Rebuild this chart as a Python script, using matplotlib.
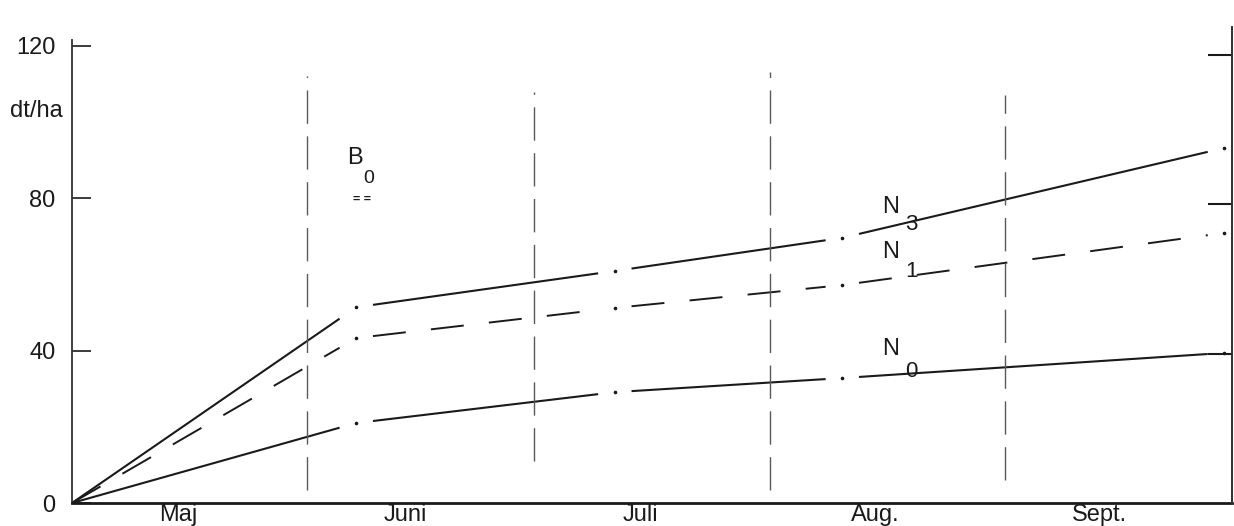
import matplotlib.pyplot as plt

# Ertrag in dt/ha, x = Tage ab 1. Mai
days = [0, 37.5, 71.6, 101.6, 152]
n3 = [0, 51.4, 60.9, 69.6, 93.2]
n1 = [0, 43.3, 51.2, 57.2, 70.9]
n0 = [0, 21.0, 29.1, 32.8, 39.4]

month_starts = [31, 61, 92, 123]
month_names = ["Maj", "Juni", "Juli", "Aug.", "Sept."]
month_label_pos = [14, 44, 75, 106, 135.5]
yticks = [0, 40, 80, 120]
right_ticks = [39, 78.5, 117.5]

plt.rcParams["font.family"] = ["Liberation Sans Narrow", "Liberation Sans", "DejaVu Sans"]
ink = "#1a1a1a"

fig = plt.figure(figsize=(12.34, 5.26), dpi=100)
ax = fig.add_axes([0.0583, 0.0437, 0.9401, 0.9054])
ax.set_xlim(0, 153)
ax.set_ylim(0, 125)


def draw_curve(xs, ys, gap, **kw):
    # plotter style: each segment stops short of the measured point
    for i in range(1, len(xs)):
        x0, y0, x1, y1 = xs[i - 1], ys[i - 1], xs[i], ys[i]
        k = (y1 - y0) / (x1 - x0)
        a = x0 + (gap if i > 1 else 0)
        b = x1 - gap
        ax.plot([a, b], [y0 + k * (a - x0), y0 + k * (b - x0)], color=ink,
                solid_capstyle="butt", **kw)
    ax.plot(xs[1:], ys[1:], ls="none", marker="o", ms=1.6, color=ink)


draw_curve(days, n3, 2.2, lw=1.5)
draw_curve(days, n1, 2.2, lw=1.4, dashes=(17, 13))
draw_curve(days, n0, 2.2, lw=1.5)

# Monatsgrenzen
vtop = [112, 108, 113, 107]
vbot = [3.5, 11, 3.5, 6]
for x, lo, hi in zip(month_starts, vbot, vtop):
    ax.vlines(x, lo, hi, color="#5a5a5a", lw=1.0, linestyles=(0, (24, 9)))

# Kurvenbeschriftung
fs = 17
ax.text(37.3, 90.6, "B", fontsize=fs, ha="center", va="center", color=ink)
ax.text(39.2, 85.2, "0", fontsize=fs - 3, ha="center", va="center", color=ink)
ax.text(38.3, 79.6, "= =", fontsize=9, fontweight="bold", ha="center", va="center", color=ink)
for lab, sub, yn, ys in [("N", "3", 77.6, 73.0), ("N", "1", 65.8, 60.8), ("N", "0", 40.4, 34.6)]:
    ax.text(107.9, yn, lab, fontsize=fs, ha="center", va="center", color=ink)
    ax.text(110.7, ys, sub, fontsize=fs - 1, ha="center", va="center", color=ink)

ax.text(-1.2, 103, "dt/ha", fontsize=fs, ha="right", va="center", color=ink)

# Achsen
ax.spines["top"].set_visible(False)
ax.spines["left"].set_bounds(0, 121.5)
for s in ["left", "right"]:
    ax.spines[s].set_linewidth(1.3)
    ax.spines[s].set_color("#333333")
ax.spines["bottom"].set_linewidth(2.0)
ax.spines["bottom"].set_color(ink)

ax.set_yticks(yticks)
ax.set_yticklabels([str(v) for v in yticks])
ax.tick_params(axis="y", direction="in", length=14, width=1.2, pad=12,
               labelsize=fs, colors=ink)
ax.set_xticks(month_label_pos)
ax.set_xticklabels(month_names)
ax.tick_params(axis="x", length=0, pad=1, labelsize=fs, colors=ink)

ax2 = ax.twinx()
ax2.set_ylim(ax.get_ylim())
ax2.set_yticks(right_ticks)
ax2.set_yticklabels([])
ax2.tick_params(axis="y", direction="in", length=17, width=1.5, colors=ink)
for s in ["top", "left", "bottom"]:
    ax2.spines[s].set_visible(False)
ax2.spines["right"].set_linewidth(1.3)
ax2.spines["right"].set_color("#333333")

fig.savefig("out.png", dpi=100)
